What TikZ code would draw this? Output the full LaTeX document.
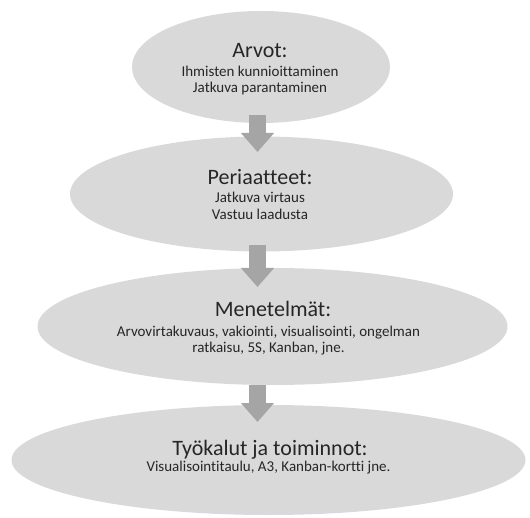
\documentclass[tikz,border=0pt]{standalone}
\usepackage{fontspec}
\setmainfont{Carlito}[Ligatures={NoCommon}]
\usetikzlibrary{shapes.geometric,arrows.meta}
\definecolor{ellfill}{HTML}{D9D9D9}
\definecolor{arrgray}{HTML}{A5A5A5}
\definecolor{txt}{HTML}{262626}
\tikzset{
  ell/.style={ellipse, fill=ellfill, draw=none, inner sep=0pt},
  head/.style={anchor=base, inner sep=0pt, text=txt, font=\fontsize{22}{26}\selectfont},
  body/.style={anchor=base, inner sep=0pt, text=txt, font=\fontsize{15}{17}\selectfont},
  blockarrow/.style={draw=arrgray, line width=17pt,
    -{Triangle[width=32pt,length=19pt]}, arrgray}
}
\begin{document}
\begin{tikzpicture}[x=1pt,y=-1pt]
\useasboundingbox (0,0) rectangle (530,518);
% ellipses
\node[ell, minimum width=258pt, minimum height=112pt] (e1) at (261,67) {};
\node[ell, minimum width=383pt, minimum height=115pt] (e2) at (261.5,194) {};
\node[ell, minimum width=470pt, minimum height=117pt] (e3) at (272.5,326.5) {};
\node[ell, minimum width=514pt, minimum height=110pt] (e4) at (268.5,460) {};
% arrows
\coordinate (a1s) at (257.5,115);
\coordinate (a1e) at (257.5,152);
\coordinate (a2s) at (257.5,245);
\coordinate (a2e) at (257.5,287);
\coordinate (a3s) at (257.5,385);
\coordinate (a3e) at (257.5,422);
\draw[blockarrow] (a1s) -- (a1e);
\draw[blockarrow] (a2s) -- (a2e);
\draw[blockarrow] (a3s) -- (a3e);
% texts
\node[head] (h1) at (260,58) {Arvot:};
\node[body] (b1a) at (260,77) {Ihmisten kunnioittaminen};
\node[body] (b1b) at (260,93) {Jatkuva parantaminen};
\node[head] (h2) at (260,185) {Periaatteet:};
\node[body] (b2a) at (260,203) {Jatkuva virtaus};
\node[body] (b2b) at (260,220) {Vastuu laadusta};
\node[head] (h3) at (273,317) {Menetelmät:};
\node[body] (b3a) at (268.5,337) {Arvovirtakuvaus, vakiointi, visualisointi, ongelman};
\node[body] (b3b) at (268.5,353) {ratkaisu, 5S, Kanban, jne.};
\node[head] (h4) at (270,455) {Työkalut ja toiminnot:};
\node[body] (b4a) at (268.5,471) {Visualisointitaulu, A3, Kanban-kortti jne.};
\end{tikzpicture}
\end{document}
